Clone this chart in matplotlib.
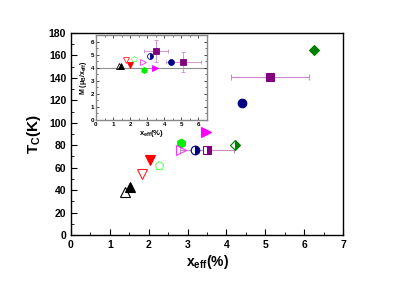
import matplotlib
matplotlib.use("Agg")
import matplotlib.pyplot as plt
from matplotlib.ticker import MultipleLocator

plt.rcParams['font.family'] = ['Liberation Sans', 'DejaVu Sans']
plt.rcParams['font.weight'] = 'bold'
plt.rcParams['mathtext.fontset'] = 'custom'
plt.rcParams['mathtext.rm'] = 'Liberation Sans:bold'
plt.rcParams['mathtext.bf'] = 'Liberation Sans:bold'
plt.rcParams['mathtext.it'] = 'Liberation Sans:bold'
plt.rcParams['mathtext.default'] = 'rm'

# ---- main panel data: x_eff (%), Tc (K)
main_x = [1.40, 1.52, 1.83, 2.03, 2.27, 2.83, 2.83, 3.20, 3.50, 4.22, 3.47, 4.40, 5.12, 6.25]
main_tc = [38, 43, 54, 67, 62, 82, 76, 76, 76, 80, 92, 118, 141, 165]
main_xerr = [0, 0, 0, 0, 0, 0, 0, 0, 0.70, 0, 0, 0, 1.00, 0]
main_marker = ['^', '^', 'v', 'v', 'p', 'h', '>', 'o', 's', 'D', '>', 'o', 's', 'D']
main_color = ['black', 'black', '#ff2020', '#ff0000', '#66ff66', '#00ee00', '#ff33ff',
              '#000080', '#800080', '#008000', '#ff00ff', '#000080', '#800080', '#008000']
main_fill = ['none', 'full', 'none', 'full', 'none', 'full', 'none',
             'right', 'right', 'right', 'full', 'full', 'full', 'full']

# ---- inset data: x_eff (%), M (muB / x_eff)
ins_x = [1.35, 1.49, 1.78, 2.00, 2.24, 2.78, 2.80, 3.18, 3.50, 3.45, 4.39, 5.12]
ins_m = [4.1, 4.1, 4.6, 4.2, 4.65, 4.44, 3.85, 4.9, 5.27, 3.95, 4.4, 4.45]
ins_xerr = [0, 0, 0, 0, 0, 0, 0, 0, 0.70, 0, 0, 1.00]
ins_yerr = [0, 0, 0, 0, 0, 0, 0, 0, 0.85, 0, 0, 0.75]
ins_marker = ['^', '^', 'v', 'v', 'p', '>', 'h', 'o', 's', '>', 'o', 's']
ins_color = ['black', 'black', '#ff2020', '#ff0000', '#66ff66', '#ff33ff', '#00ee00',
             '#000080', '#800080', '#ff00ff', '#000080', '#800080']
ins_fill = ['none', 'full', 'none', 'full', 'none', 'none', 'full',
            'right', 'full', 'full', 'full', 'full']

err_color = '#cc88cc'
msize = {'^': 6.5, 'v': 6.5, '>': 6.5, 'p': 6.3, 'h': 6.3, 'o': 6.2, 's': 5.3, 'D': 5.0}

fig = plt.figure(figsize=(3.99, 2.82), dpi=100)
ax = fig.add_axes([71/399, 1-235/282, (343-71)/399, (235-33)/282])

for x, y, xe, m, c, f in zip(main_x, main_tc, main_xerr, main_marker, main_color, main_fill):
    if xe > 0:
        ax.errorbar(x, y, xerr=xe, fmt='none', ecolor=err_color, elinewidth=0.8,
                    capsize=2.5, capthick=0.8, zorder=2)
    ax.plot(x, y, marker=m, color=c, markersize=msize[m],
            fillstyle=f, markerfacecoloralt='white', markeredgewidth=0.8,
            linestyle='none', zorder=3)

ax.set_xlim(0, 7)
ax.set_ylim(0, 180)
ax.xaxis.set_major_locator(MultipleLocator(1))
ax.xaxis.set_minor_locator(MultipleLocator(0.5))
ax.yaxis.set_major_locator(MultipleLocator(20))
ax.yaxis.set_minor_locator(MultipleLocator(10))
ax.tick_params(which='both', direction='in', top=False, right=False, labelsize=7.5)
ax.tick_params(which='major', length=4, width=0.8)
ax.tick_params(which='minor', length=2, width=0.6)
for s in ax.spines.values():
    s.set_linewidth(1.0)
ax.set_xlabel(r'x$_{\mathbf{eff}}$(%)', fontsize=10, fontweight='bold', labelpad=2)
ax.set_ylabel(r'T$_{\mathbf{C}}$(K)', fontsize=11, fontweight='bold', labelpad=4)

# ---- inset
ai = fig.add_axes([96/399, 1-120/282, (207-96)/399, (120-35)/282])
ai.axhline(4, color='#909090', linewidth=0.8, zorder=1)
for x, y, xe, ye, m, c, f in zip(ins_x, ins_m, ins_xerr, ins_yerr, ins_marker, ins_color, ins_fill):
    if xe > 0 or ye > 0:
        ai.errorbar(x, y, xerr=xe, yerr=ye, fmt='none', ecolor=err_color, elinewidth=0.6,
                    capsize=1.5, capthick=0.6, zorder=2)
    ai.plot(x, y, marker=m, color=c, markersize=msize[m] * 0.68, fillstyle=f,
            markerfacecoloralt='white', markeredgewidth=0.6, linestyle='none', zorder=3)
ai.set_xlim(0, 6.5)
ai.set_ylim(0, 6.5)
ai.xaxis.set_major_locator(MultipleLocator(1))
ai.xaxis.set_minor_locator(MultipleLocator(0.5))
ai.yaxis.set_major_locator(MultipleLocator(1))
ai.yaxis.set_minor_locator(MultipleLocator(0.5))
ai.tick_params(which='both', direction='in', top=True, right=True, labelsize=4.5, pad=1.5)
ai.tick_params(which='major', length=2.5, width=0.5)
ai.tick_params(which='minor', length=1.2, width=0.4)
for s in ai.spines.values():
    s.set_edgecolor('#888888')
    s.set_linewidth(1.0)
ai.set_xlabel(r'x$_{\mathbf{eff}}$(%)', fontsize=5.5, fontweight='bold', labelpad=0.5)
ai.set_ylabel(r'M ($\mu_{\mathbf{B}}$/x$_{\mathbf{eff}}$)', fontsize=5, fontweight='bold', labelpad=1)

fig.savefig('out.png', dpi=100)
